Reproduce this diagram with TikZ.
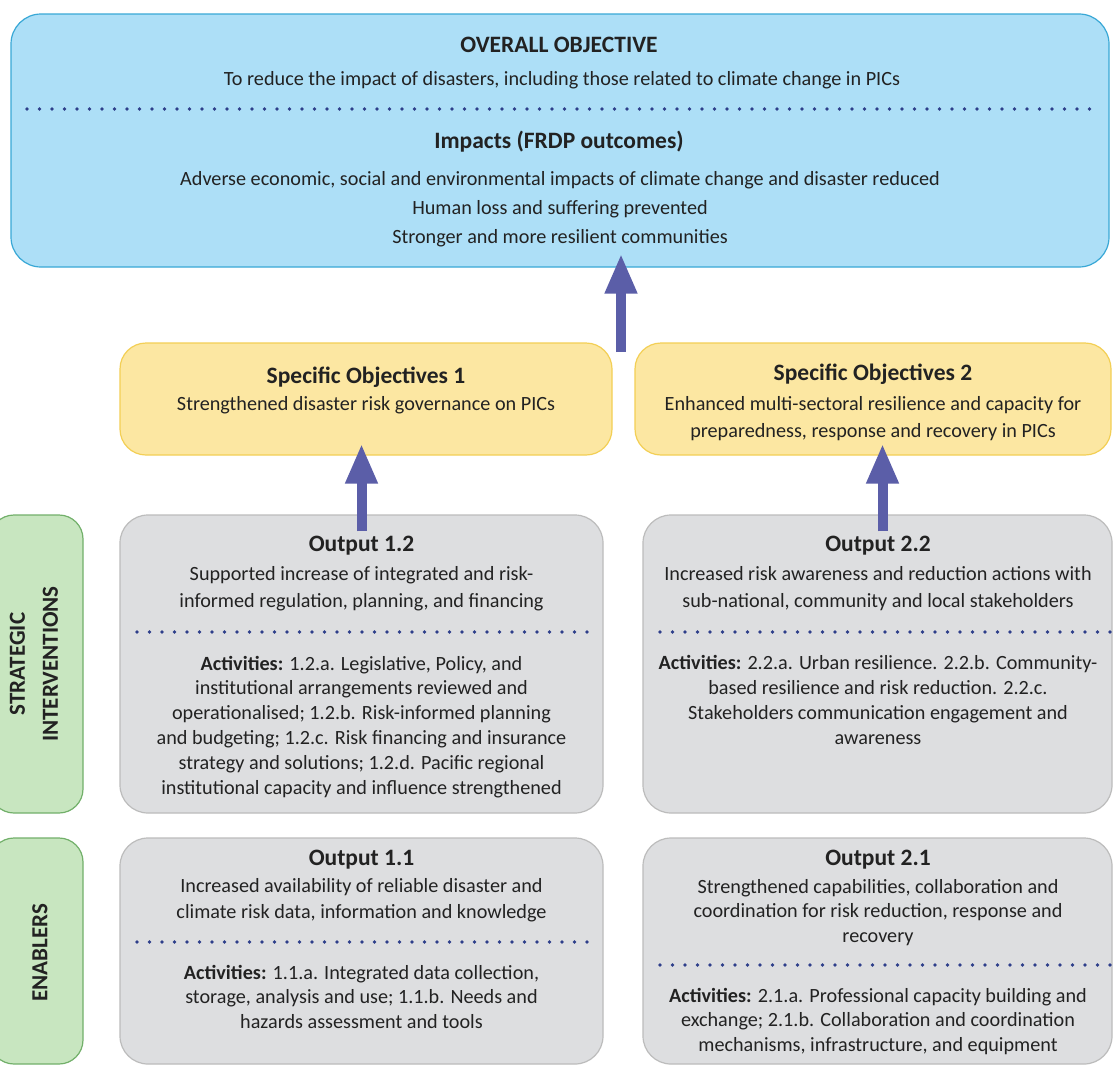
\documentclass[tikz,border=0pt]{standalone}
\usepackage{fontspec}
\setmainfont{Carlito}
\usetikzlibrary{arrows.meta,positioning}
\definecolor{skyfill}{HTML}{ADDFF7}
\definecolor{skyline}{HTML}{39A8D6}
\definecolor{sunfill}{HTML}{FCE7A2}
\definecolor{sunline}{HTML}{F3CF55}
\definecolor{greyfill}{HTML}{DDDEE0}
\definecolor{greyline}{HTML}{BCBCBC}
\definecolor{leaffill}{HTML}{C8E6C0}
\definecolor{leafline}{HTML}{72B06A}
\definecolor{arrowblue}{HTML}{5B5EA8}
\definecolor{dotblue}{HTML}{2D3E8A}
\definecolor{inkgrey}{HTML}{222222}

\begin{document}
\begin{tikzpicture}[x=1pt, y=-1pt, text=inkgrey,
	box/.style = {draw, line width=1.2pt, inner sep=0pt},
	objbox/.style = {box, fill=skyfill, draw=skyline, rounded corners=30pt},
	sobox/.style = {box, fill=sunfill, draw=sunline, rounded corners=26pt},
	outbox/.style = {box, fill=greyfill, draw=greyline, rounded corners=28pt},
	sidebox/.style = {box, fill=leaffill, draw=leafline, rounded corners=24pt},
	head/.style = {anchor=base, font=\bfseries\fontsize{23.5}{28}\selectfont},
	txt/.style = {anchor=base, align=center, font=\fontsize{20.2}{24.2}\selectfont},
	side/.style = {rotate=90, align=center, font=\bfseries\fontsize{23}{33}\selectfont},
	dots/.style = {draw=dotblue, line width=3.6pt, line cap=round, dash pattern=on 0pt off 12.5pt},
	up/.style = {draw=arrowblue, line width=10pt, -{Triangle[length=40pt,width=30pt]}}]
\fill[white] (0,0) rectangle (1113,1068);
\useasboundingbox (0,0) rectangle (1113,1068);

\node[objbox, minimum width=1098pt, minimum height=253pt] (overall) at (560,140.5) {};
\node[head] (ovhead) at (559,52) {OVERALL OBJECTIVE};
\node[txt] (ovtext) at (562,85) {To reduce the impact of disasters, including those related to climate change in PICs};
\draw[dots] (27,109) -- (1100,109);
\node[head] (imphead) at (559,148) {Impacts (FRDP outcomes)};
\node[txt, font=\fontsize{20.2}{29}\selectfont] (imptext) at (560,243) {Adverse economic, social and environmental impacts of climate change and disaster reduced\\Human loss and suffering prevented\\Stronger and more resilient communities};

\node[sobox, minimum width=492pt, minimum height=112pt] (so1) at (366,399) {};
\node[head] (so1head) at (366,383) {Specific Objectives 1};
\node[txt] (so1text) at (366,410) {Strengthened disaster risk governance on PICs};
\node[sobox, minimum width=476pt, minimum height=112pt] (so2) at (873,399) {};
\node[head] (so2head) at (873,380) {Specific Objectives 2};
\node[txt, font=\fontsize{20.2}{27}\selectfont] (so2text) at (873,437) {Enhanced multi-sectoral resilience and capacity for\\preparedness, response and recovery in PICs};

\node[sidebox, minimum width=93pt, minimum height=298pt] (sidetop) at (36.5,664) {};
\node[side] (strat) at (34,664) {STRATEGIC\\INTERVENTIONS};
\node[sidebox, minimum width=93pt, minimum height=226pt] (sidebot) at (36.5,951) {};
\node[side] (enab) at (40,953) {ENABLERS};

\node[outbox, minimum width=483pt, minimum height=298pt] (out12) at (361.5,664) {};
\node[head] (out12head) at (361.5,551) {Output 1.2};
\node[txt, font=\fontsize{20.2}{27}\selectfont] (out12text) at (361.5,607) {Supported increase of integrated and risk-\\informed regulation, planning, and financing};
\draw[dots] (137,632) -- (590,632);
\node[txt, font=\fontsize{20.2}{24.8}\selectfont] (out12act) at (361.5,794) {\textbf{Activities:} 1.2.a. Legislative, Policy, and\\institutional arrangements reviewed and\\operationalised; 1.2.b. Risk-informed planning\\and budgeting; 1.2.c. Risk financing and insurance\\strategy and solutions; 1.2.d. Pacific regional\\institutional capacity and influence strengthened};

\node[outbox, minimum width=469pt, minimum height=298pt] (out22) at (877.5,664) {};
\node[head] (out22head) at (878,551) {Output 2.2};
\node[txt, font=\fontsize{20.2}{27}\selectfont] (out22text) at (878,607) {Increased risk awareness and reduction actions with\\sub-national, community and local stakeholders};
\draw[dots] (660,632) -- (1110,632);
\node[txt, font=\fontsize{20.2}{25}\selectfont] (out22act) at (878,744) {\textbf{Activities:} 2.2.a. Urban resilience. 2.2.b. Community-\\based resilience and risk reduction. 2.2.c.\\Stakeholders communication engagement and\\awareness};

\node[outbox, minimum width=483pt, minimum height=226pt] (out11) at (361.5,951) {};
\node[head] (out11head) at (361.5,865) {Output 1.1};
\node[txt, font=\fontsize{20.2}{26}\selectfont] (out11text) at (361.5,918) {Increased availability of reliable disaster and\\climate risk data, information and knowledge};
\draw[dots] (137,942) -- (590,942);
\node[txt, font=\fontsize{20.2}{24.5}\selectfont] (out11act) at (361.5,1028) {\textbf{Activities:} 1.1.a. Integrated data collection,\\storage, analysis and use; 1.1.b. Needs and\\hazards assessment and tools};

\node[outbox, minimum width=469pt, minimum height=226pt] (out21) at (877.5,951) {};
\node[head] (out21head) at (878,865) {Output 2.1};
\node[txt] (out21text) at (878,942) {Strengthened capabilities, collaboration and\\coordination for risk reduction, response and\\recovery};
\draw[dots] (660,965) -- (1110,965);
\node[txt] (out21act) at (878,1051) {\textbf{Activities:} 2.1.a. Professional capacity building and\\exchange; 2.1.b. Collaboration and coordination\\mechanisms, infrastructure, and equipment};

\coordinate (topfoot) at (621,352);
\draw[up] (topfoot) -- ([yshift=14pt]overall.south -| topfoot);
\draw[up] ([yshift=-17pt]out12.north) -- ([yshift=12pt]so1.south -| out12.north);
\draw[up] ([shift={(5pt,-17pt)}]out22.north) -- ([shift={(5pt,12pt)}]so2.south -| out22.north);
\end{tikzpicture}
\end{document}
